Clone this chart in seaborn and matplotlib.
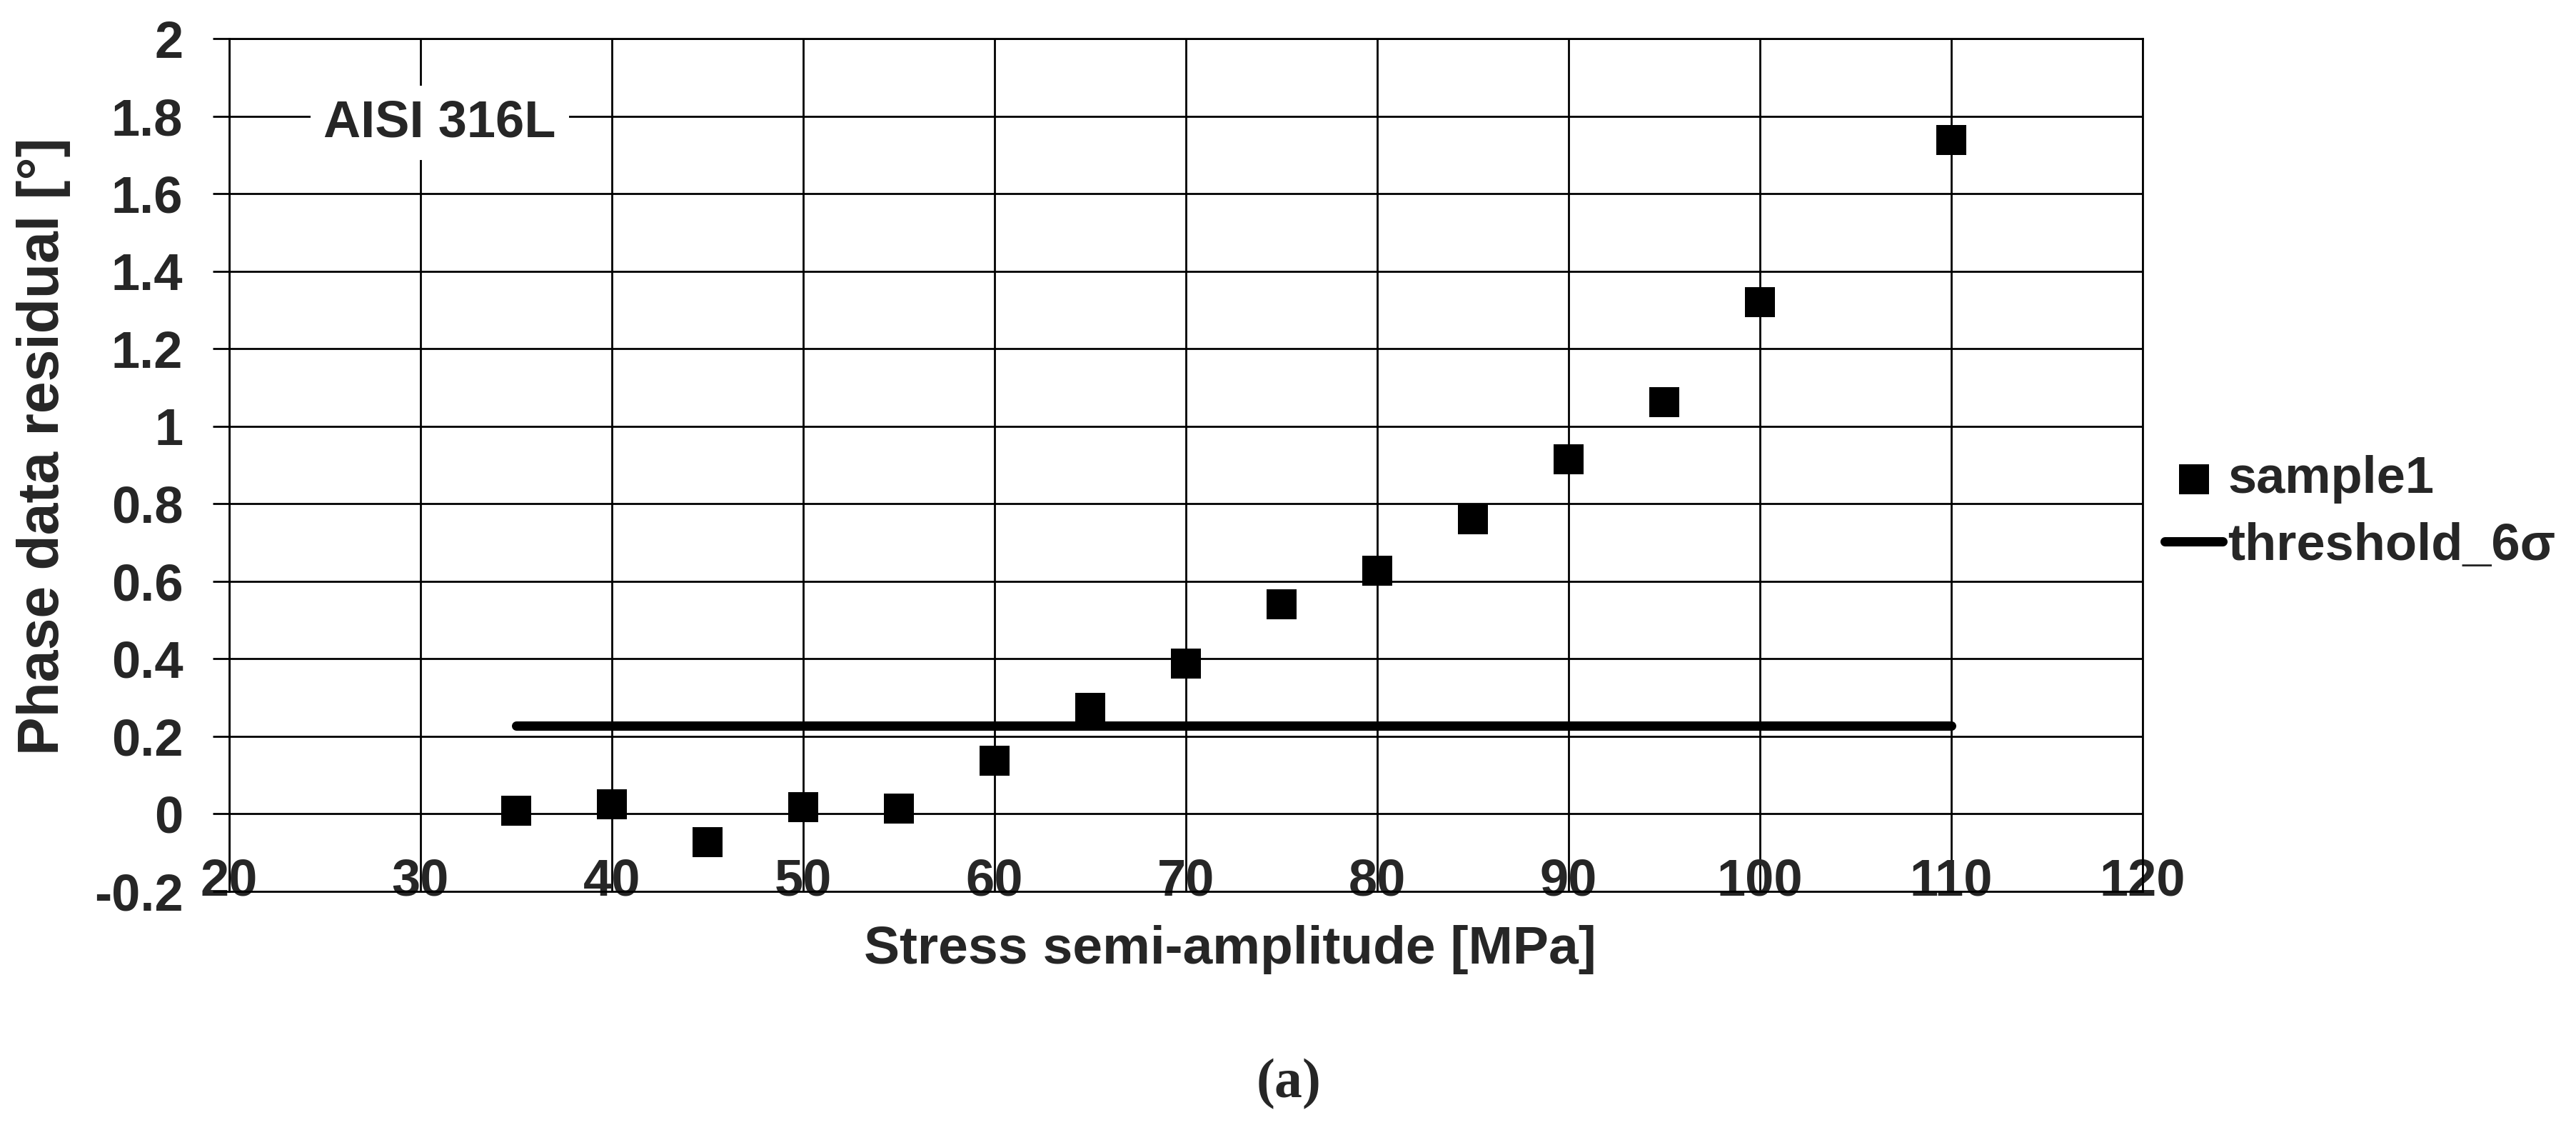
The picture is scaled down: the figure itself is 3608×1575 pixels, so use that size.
import numpy as np
import pandas as pd
import matplotlib
matplotlib.use("Agg")
import matplotlib.pyplot as plt
import seaborn as sns

# data
stress = [35, 40, 45, 50, 55, 60, 65, 70, 75, 80, 85, 90, 95, 100, 110]
residual = [0.009, 0.024, -0.072, 0.018, 0.013, 0.138, 0.273, 0.388, 0.54,
            0.627, 0.76, 0.914, 1.062, 1.321, 1.738]
threshold_x = [35, 110]
threshold_y = [0.227, 0.227]

x_ticks = [20, 30, 40, 50, 60, 70, 80, 90, 100, 110, 120]
y_ticks = [-0.2, 0, 0.2, 0.4, 0.6, 0.8, 1, 1.2, 1.4, 1.6, 1.8, 2]
y_tick_labels = ['-0.2', '0', '0.2', '0.4', '0.6', '0.8', '1', '1.2', '1.4', '1.6', '1.8', '2']

df = pd.DataFrame({'stress': stress, 'residual': residual})
df_thr = pd.DataFrame({'stress': threshold_x, 'residual': threshold_y})

sns.set_style('white')
plt.rcParams['font.family'] = ['Liberation Sans', 'DejaVu Sans']
plt.rcParams['font.weight'] = 'bold'
plt.rcParams['mathtext.fontset'] = 'custom'
plt.rcParams['mathtext.rm'] = 'Liberation Serif'
plt.rcParams['mathtext.bf'] = 'Liberation Serif:bold'

W, H = 3608, 1575
fig = plt.figure(figsize=(W / 200, H / 200), dpi=200)
ax = fig.add_axes([321 / W, 1 - 1248 / H, (3001 - 321) / W, (1248 - 54) / H])

sns.scatterplot(data=df, x='stress', y='residual', marker='s', s=225,
                color='black', linewidth=0, label='sample1', ax=ax, zorder=4)
sns.lineplot(data=df_thr, x='stress', y='residual', color='black', lw=4.7,
             label='threshold_6σ', ax=ax, zorder=3, solid_capstyle='round')

ax.set_xlim(20, 120)
ax.set_ylim(-0.2, 2)
ax.set_xticks(x_ticks)
ax.set_xticklabels([str(t) for t in x_ticks])
ax.set_yticks(y_ticks)
ax.set_yticklabels(y_tick_labels)
ax.set_axisbelow(True)
ax.grid(True, color='black', lw=1.0)
for sp in ax.spines.values():
    sp.set_color('black')
    sp.set_linewidth(1.0)
    sp.set_visible(True)

ax.tick_params(axis='y', length=8.3, width=1.0, pad=15, direction='out',
               labelsize=26, color='black', left=True)
ax.tick_params(axis='x', length=0, pad=-17, labelsize=26, bottom=True)
ax.set_xlabel('')
ax.set_ylabel('')

ax.text(31.0, 1.782, 'AISI 316L', ha='center', va='center', fontsize=26,
        fontweight='bold', zorder=5,
        bbox=dict(boxstyle='square,pad=0.25', facecolor='white', edgecolor='none'))

ax.legend(loc='center left', bbox_to_anchor=(3032 / W, 1 - 718 / H),
          bbox_transform=fig.transFigure, frameon=False, fontsize=26,
          handlelength=1.125, handletextpad=0.1, labelspacing=0.35,
          borderpad=0, borderaxespad=0)

fig.text(1723 / W, 1 - 1330 / H, 'Stress semi-amplitude [MPa]', ha='center',
         va='center', fontsize=27, fontweight='bold')
fig.text(61 / W, 1 - 625 / H, 'Phase data residual [°]', ha='center',
         va='center', rotation=90, fontsize=29, fontweight='bold')
fig.text(0.5, 1 - 1517 / H, r'$\mathrm{(}\mathbf{a}\mathrm{)}$', ha='center',
         va='center', fontsize=28)

fig.savefig('out.png', dpi=200, facecolor='white')
